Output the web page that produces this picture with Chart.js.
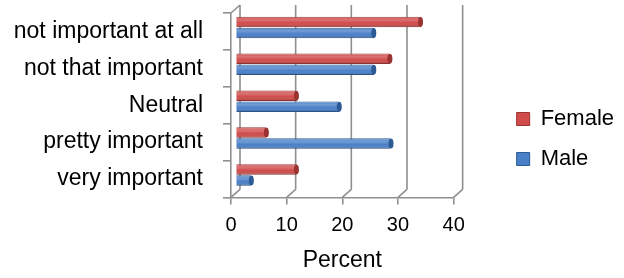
<!DOCTYPE html>
<html>
<head>
<meta charset="utf-8">
<script src="https://cdn.jsdelivr.net/npm/chart.js@4"></script>
<style>
html, body { margin: 0; padding: 0; background: #fff; }
#wrap { width: 624px; height: 278px; }
</style>
</head>
<body>
<div id="wrap"><canvas id="chart"></canvas></div>
<script>
const categories = ["not important at all", "not that important", "Neutral", "pretty important", "very important"];
const female = [33.6, 28.1, 11.3, 5.9, 11.3];
const male = [25.2, 25.2, 19.0, 28.3, 3.2];
const xTicks = [0, 10, 20, 30, 40];

// 3d depth of the excel style walls
const DX = 9, DY = 8;
const GRID = "#8f8f8f";
const FONT = "'Liberation Sans', Arial, sans-serif";

const wallPlugin = {
    id: "wall",
    beforeDatasetsDraw(chart) {
        const { ctx, chartArea: a, scales: { x } } = chart;
        ctx.save();
        ctx.strokeStyle = GRID;
        ctx.lineWidth = 1.6;
        ctx.beginPath();
        xTicks.forEach(v => {
            const px = x.getPixelForValue(v);
            ctx.moveTo(px + DX, a.top - DY);
            ctx.lineTo(px + DX, a.bottom - DY);
            ctx.moveTo(px, a.bottom);
            ctx.lineTo(px + DX, a.bottom - DY);
        });
        ctx.moveTo(a.left, a.top);
        ctx.lineTo(a.left + DX, a.top - DY);
        ctx.stroke();
        ctx.restore();
        // bars sit half way into the depth
        ctx.save();
        ctx.translate(DX / 2, -DY / 2);
    },
    afterDatasetsDraw(chart) {
        const ctx = chart.ctx;
        chart.data.datasets.forEach((ds, i) => {
            chart.getDatasetMeta(i).data.forEach(bar => {
                const { x, y, base, height } = bar.getProps(["x", "y", "base", "height"], true);
                const top = y - height / 2;
                const g = ctx.createLinearGradient(0, top, 0, top + height);
                g.addColorStop(0, "rgba(255,255,255,0.05)");
                g.addColorStop(0.3, "rgba(255,255,255,0.22)");
                g.addColorStop(0.6, "rgba(255,255,255,0)");
                g.addColorStop(1, "rgba(0,0,0,0.25)");
                ctx.fillStyle = g;
                ctx.fillRect(base + 0.5, top + 0.5, x - base - 3, height - 1);
                ctx.fillStyle = ds.borderColor;
                ctx.beginPath();
                ctx.ellipse(x - 2, y, 2.5, height / 2 - 0.5, 0, 0, Math.PI * 2);
                ctx.fill();
            });
        });
        ctx.restore();
    }
};

new Chart(document.getElementById("chart"), {
    type: "bar",
    data: {
        labels: categories,
        datasets: [
            {
                label: "Female",
                data: female,
                backgroundColor: "#d04c4b",
                borderColor: "#9a3432",
                borderWidth: 1,
                borderRadius: 3,
                categoryPercentage: 0.6,
                barPercentage: 0.95
            },
            {
                label: "Male",
                data: male,
                backgroundColor: "#4a80c8",
                borderColor: "#2c5a94",
                borderWidth: 1,
                borderRadius: 3,
                categoryPercentage: 0.6,
                barPercentage: 0.95
            }
        ]
    },
    options: {
        indexAxis: "y",
        responsive: true,
        maintainAspectRatio: false,
        animation: false,
        layout: { padding: { top: 13, left: 0, right: 0, bottom: 0 } },
        scales: {
            x: {
                type: "linear",
                min: 0,
                max: 40,
                ticks: { stepSize: 10, padding: 9, color: "#000", font: { family: FONT, size: 20 } },
                grid: { drawOnChartArea: false, tickLength: 7, color: GRID, lineWidth: 1.6 },
                border: { color: GRID, width: 1.6 },
                title: {
                    display: true,
                    text: "Percent",
                    color: "#000",
                    font: { family: FONT, size: 23 },
                    padding: { top: 0, bottom: 4 }
                }
            },
            y: {
                grid: { drawOnChartArea: false, tickLength: 8, color: GRID, lineWidth: 1.6 },
                border: { color: GRID, width: 1.6 },
                ticks: { padding: 20, color: "#000", font: { family: FONT, size: 23 } },
                afterFit: s => {
                    s.width = 231;
                    s.paddingTop = 0;
                    s.paddingBottom = 0;
                }
            },
            // hidden spacer between plot and legend
            y2: {
                type: "category",
                position: "right",
                display: false,
                afterFit: s => { s.width = 45; }
            }
        },
        plugins: {
            tooltip: { enabled: false },
            legend: {
                position: "right",
                align: "start",
                // empty title only pushes the items down
                title: { display: true, text: " ", font: { size: 10 }, padding: { top: 65, bottom: 0 } },
                labels: {
                    boxWidth: 13,
                    boxHeight: 13,
                    padding: 18,
                    color: "#000",
                    font: { family: FONT, size: 22 }
                }
            }
        }
    },
    plugins: [wallPlugin]
});
</script>
</body>
</html>
